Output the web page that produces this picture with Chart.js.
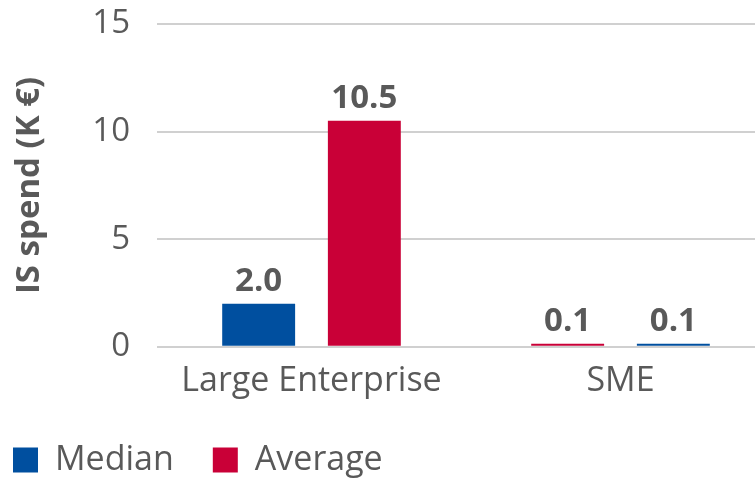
<!DOCTYPE html>
<html>
<head>
<meta charset="utf-8">
<script src="https://cdn.jsdelivr.net/npm/chart.js@4/dist/chart.umd.min.js"></script>
<style>
  html, body { margin: 0; padding: 0; background: #fff; overflow: hidden; }
  #wrap { width: 775px; height: 479px; position: relative; }
</style>
</head>
<body>
<div id="wrap"><canvas id="chart"></canvas></div>
<script>
// values (SME bars are a little above 0.1, shown rounded)
const categories = ['Large Enterprise', 'SME']
const median = [2.0, 0.14]
const average = [10.5, 0.14]
// in the SME group the average bar comes first
const averageFirst = [false, true]
const yTicks = [0, 5, 10, 15]

const BLUE = '#004f9f'
const RED = '#c90037'
const GREY = '#595959'
const FONT = "'Open Sans', 'Noto Sans', sans-serif"

// two bar slots per category, filled from the series above
const leftVals = [], leftCols = [], rightVals = [], rightCols = []
for (let i = 0; i < categories.length; i++) {
  if (averageFirst[i]) {
    leftVals.push(average[i]); leftCols.push(RED)
    rightVals.push(median[i]); rightCols.push(BLUE)
  } else {
    leftVals.push(median[i]); leftCols.push(BLUE)
    rightVals.push(average[i]); rightCols.push(RED)
  }
}

// value labels above the bars
const barLabels = {
  id: 'barLabels',
  afterDatasetsDraw(chart) {
    const ctx = chart.ctx
    ctx.save()
    ctx.font = 'bold 33px ' + FONT
    ctx.fillStyle = GREY
    ctx.textAlign = 'center'
    ctx.textBaseline = 'alphabetic'
    chart.data.datasets.forEach((ds, di) => {
      chart.getDatasetMeta(di).data.forEach((bar, j) => {
        ctx.fillText(ds.data[j].toFixed(1), bar.x, bar.y - 13)
      })
    })
    ctx.restore()
  }
}

// the legend row sits closer to the axis labels than the default padding allows
const legendShift = {
  id: 'legendShift',
  afterLayout(chart) {
    chart.legend.top -= 11
    chart.legend.bottom -= 11
  }
}

const barOpts = { barPercentage: 0.69, categoryPercentage: 0.684 }

new Chart(document.getElementById('chart'), {
  type: 'bar',
  data: {
    labels: categories,
    datasets: [
      Object.assign({ data: leftVals, backgroundColor: leftCols }, barOpts),
      Object.assign({ data: rightVals, backgroundColor: rightCols }, barOpts)
    ]
  },
  options: {
    responsive: true,
    maintainAspectRatio: false,
    animation: false,
    layout: { padding: { top: 0, left: -26, right: 0, bottom: -19 } },
    scales: {
      x: {
        grid: { display: false, drawTicks: false },
        border: { display: false },
        ticks: { color: GREY, font: { family: FONT, size: 34, lineHeight: 1.3 }, padding: 12 }
      },
      y: {
        min: 0,
        max: 15,
        afterBuildTicks(scale) { scale.ticks = yTicks.map(v => ({ value: v })) },
        afterFit(scale) { scale.width = 183; scale.paddingTop = 24 },
        grid: { color: '#d0d0d0', lineWidth: 2, drawTicks: false },
        border: { display: false },
        ticks: { color: GREY, font: { family: FONT, size: 33 }, padding: 27 },
        title: {
          display: true,
          text: 'IS spend (K €)',
          color: GREY,
          font: { family: FONT, size: 33, weight: 'bold' },
          padding: { top: 36, bottom: 0 }
        }
      }
    },
    plugins: {
      legend: {
        position: 'bottom',
        align: 'start',
        labels: {
          color: GREY,
          font: { family: FONT, size: 34 },
          boxWidth: 25,
          boxHeight: 25,
          padding: 39,
          generateLabels() {
            return [
              { text: 'Median', fillStyle: BLUE, strokeStyle: BLUE, lineWidth: 0, fontColor: GREY },
              { text: 'Average', fillStyle: RED, strokeStyle: RED, lineWidth: 0, fontColor: GREY }
            ]
          }
        }
      },
      tooltip: { enabled: false }
    }
  },
  plugins: [barLabels, legendShift]
})
</script>
</body>
</html>
